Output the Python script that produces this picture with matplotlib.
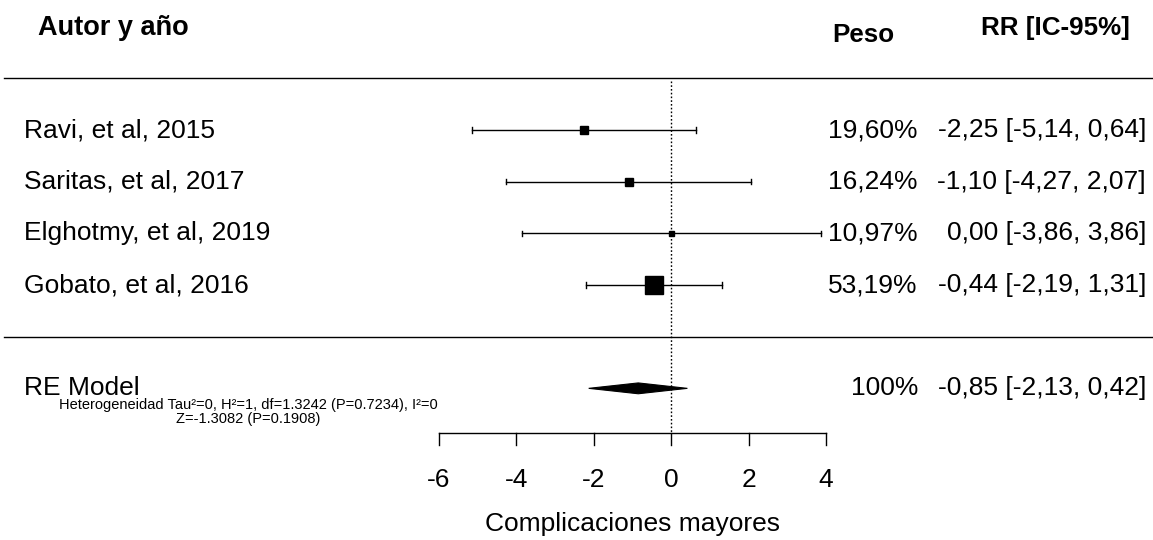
import numpy as np
import matplotlib
matplotlib.use("Agg")
import matplotlib.pyplot as plt
from matplotlib.patches import Polygon

plt.rcParams['font.family'] = ['Liberation Sans', 'DejaVu Sans']

# datos del forest plot
autores = ["Ravi, et al, 2015", "Saritas, et al, 2017", "Elghotmy, et al, 2019", "Gobato, et al, 2016"]
rr = [-2.25, -1.10, 0.00, -0.44]
ic_inf = [-5.14, -4.27, -3.86, -2.19]
ic_sup = [0.64, 2.07, 3.86, 1.31]
pesos = [19.60, 16.24, 10.97, 53.19]

re_est = -0.85
re_inf = -2.13
re_sup = 0.42

ticks = [-6, -4, -2, 0, 2, 4]
het_texto = "Heterogeneidad Tau²=0, H²=1, df=1.3242 (P=0.7234), I²=0\nZ=-1.3082 (P=0.1908)"


def fmt(v):
    return f"{v:.2f}".replace(".", ",")


fig = plt.figure(figsize=(11.53, 5.4), dpi=100)
ax = fig.add_axes([0, 0, 1, 1])
ax.set_xlim(-17.34, 12.45)
ax.set_ylim(-3.935, 6.516)
ax.axis("off")

fs = 19
x_izq = -16.72
x_peso = 6.377
x_rr = 12.27

# cabeceras
ax.text(-16.36, 5.974, "Autor y año", fontsize=19.5, fontweight="bold", ha="left", va="center")
ax.text(4.956, 5.84, "Peso", fontsize=18.7, fontweight="bold", ha="center", va="center")
ax.text(11.855, 5.974, "RR [IC-95%]", fontsize=18.7, fontweight="bold", ha="right", va="center")

# lineas horizontales
ax.plot([-17.24, 12.45], [5, 5], color="black", lw=1)
ax.plot([-17.24, 12.45], [0, 0], color="black", lw=1)

# linea de referencia en 0
ax.plot([0, 0], [4.95, -1.864], color="black", lw=1, linestyle=(0, (1.2, 1.5)))

# estudios
raiz = np.sqrt(pesos)
tam_px = 5 + (raiz - raiz.min()) / (raiz.max() - raiz.min()) * 13
filas = [4, 3, 2, 1]
for i in range(len(autores)):
    y = filas[i]
    ax.plot([ic_inf[i], ic_sup[i]], [y, y], color="black", lw=1)
    ax.plot([ic_inf[i], ic_inf[i]], [y - 0.05, y + 0.05], color="black", lw=1)
    ax.plot([ic_sup[i], ic_sup[i]], [y - 0.05, y + 0.05], color="black", lw=1)
    ax.plot(rr[i], y, marker="s", color="black", markersize=tam_px[i] * 72 / 100, linestyle="none")
    ax.text(x_izq, y, autores[i], fontsize=fs, ha="left", va="center")
    ax.text(x_peso, y, fmt(pesos[i]) + "%", fontsize=fs, ha="right", va="center")
    ax.text(x_rr, y, f"{fmt(rr[i])} [{fmt(ic_inf[i])}, {fmt(ic_sup[i])}]", fontsize=fs, ha="right", va="center")

# modelo RE
y_re = -1
h = 0.105
diamante = Polygon([[re_inf, y_re], [re_est, y_re + h], [re_sup, y_re], [re_est, y_re - h]],
                   closed=True, facecolor="black", edgecolor="black", lw=0.8)
ax.add_patch(diamante)
ax.text(x_izq, y_re, "RE Model", fontsize=fs, ha="left", va="center")
ax.text(x_peso, y_re, "100%", fontsize=fs, ha="right", va="center")
ax.text(x_rr, y_re, f"{fmt(re_est)} [{fmt(re_inf)}, {fmt(re_sup)}]", fontsize=fs, ha="right", va="center")
ax.text(-10.93, -1.45, het_texto, fontsize=10.5, ha="center", va="center", linespacing=1.0)

# eje x
y_eje = -1.864
ax.plot([ticks[0], ticks[-1]], [y_eje, y_eje], color="black", lw=1)
for t in ticks:
    ax.plot([t, t], [y_eje, -2.096], color="black", lw=1)
    ax.text(t, -2.774, str(t), fontsize=fs, ha="center", va="center")
ax.text(-1, -3.625, "Complicaciones mayores", fontsize=fs, ha="center", va="center")

fig.savefig("out.png", dpi=100)
